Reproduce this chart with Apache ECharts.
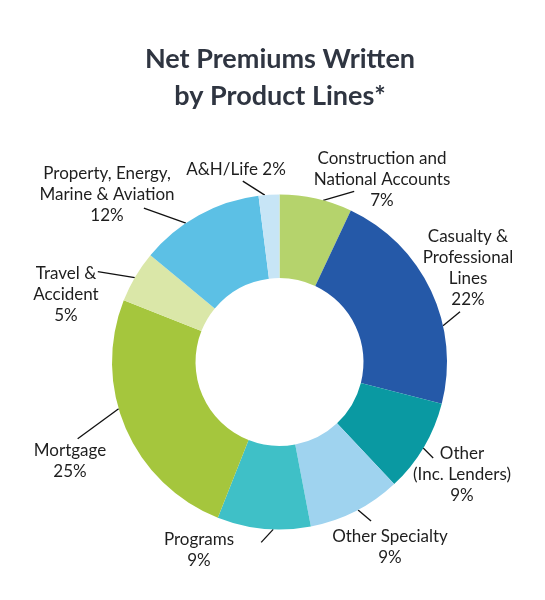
<!DOCTYPE html>
<html><head><meta charset="utf-8">
<script src="https://cdn.jsdelivr.net/npm/echarts@6/dist/echarts.min.js"></script>
<style>html,body{margin:0;padding:0;background:#fff}#c{width:545px;height:600px}</style>
</head><body><div id="c"></div>
<script>
// ---- data ----
const categories = [
  "Construction and\nNational Accounts",
  "Casualty &\nProfessional\nLines",
  "Other\n(Inc. Lenders)",
  "Other Specialty",
  "Programs",
  "Mortgage",
  "Travel &\nAccident",
  "Property, Energy,\nMarine & Aviation",
  "A&H/Life"
];
const values = [7, 22, 9, 9, 9, 25, 5, 12, 2];
const titleLines = ["Net Premiums Written", "by Product Lines*"];

// ---- styles ----
const colors = ["#b5d36c", "#2559a8", "#0a99a2", "#9fd3ef", "#3fc0c7", "#a5c63d", "#dae7a8", "#5cc0e5", "#c7e5f6"];
// label block centre, leader line anchor fraction within slice, leader line vector
const labelLayoutCfg = [
  {x: 382, y: 180, frac: 0.60, dx: 31, dy: -9, sep: "\n"},
  {x: 468, y: 268, frac: 0.66, dx: 17, dy: -14, sep: "\n"},
  {x: 462, y: 475, frac: 0.51, dx: 10, dy: 10, sep: "\n"},
  {x: 390, y: 547, frac: 0.47, dx: 13, dy: 11, sep: "\n"},
  {x: 199, y: 550, frac: 0.40, dx: -12, dy: 13, sep: "\n"},
  {x: 70,  y: 461, frac: 0.58, dx: -41, dy: 30, sep: "\n"},
  {x: 66,  y: 295, frac: 0.48, dx: -37, dy: -6, sep: "\n"},
  {x: 107, y: 195, frac: 0.38, dx: -42, dy: -15, sep: "\n"},
  {x: 236, y: 170, frac: 0.30, dx: -22, dy: -14, sep: " "}
];
const CX = 279.5, CY = 362, R_IN = 84, R_OUT = 167.5;
const FONT = "Lato";

const chart = echarts.init(document.getElementById('c'), null, {renderer: 'canvas'});
const total = values.reduce((a, b) => a + b, 0);

chart.setOption({
  animation: false,
  backgroundColor: '#fff',
  title: {
    text: titleLines.join('\n'),
    left: 280,
    textAlign: 'center',
    top: 41,
    padding: 0,
    textStyle: {fontFamily: FONT, fontSize: 27, fontWeight: 'bold', color: '#2f3541', lineHeight: 37}
  },
  series: [{
    type: 'pie',
    center: [CX, CY],
    radius: [R_IN, R_OUT],
    startAngle: 90,
    clockwise: true,
    avoidLabelOverlap: false,
    itemStyle: {borderWidth: 0},
    emphasis: {disabled: true},
    data: categories.map((name, i) => ({
      name: name,
      value: values[i],
      itemStyle: {color: colors[i]}
    })),
    label: {
      show: true,
      position: 'outside',
      fontFamily: FONT,
      fontSize: 17,
      lineHeight: 21,
      color: '#1e1e1e',
      formatter: p => p.name + labelLayoutCfg[p.dataIndex].sep + p.value + '%'
    },
    labelLine: {show: true, lineStyle: {color: '#111', width: 1.3}},
    labelLayout: function (p) {
      const L = labelLayoutCfg[p.dataIndex];
      let cum = 0;
      for (let i = 0; i < p.dataIndex; i++) cum += values[i];
      const ang = (cum + L.frac * values[p.dataIndex]) / total * 2 * Math.PI;
      const sx = CX + R_OUT * Math.sin(ang), sy = CY - R_OUT * Math.cos(ang);
      return {
        x: L.x, y: L.y, align: 'center', verticalAlign: 'middle',
        labelLinePoints: [[sx, sy], [sx + L.dx, sy + L.dy]]
      };
    }
  }]
});
</script>
</body></html>
